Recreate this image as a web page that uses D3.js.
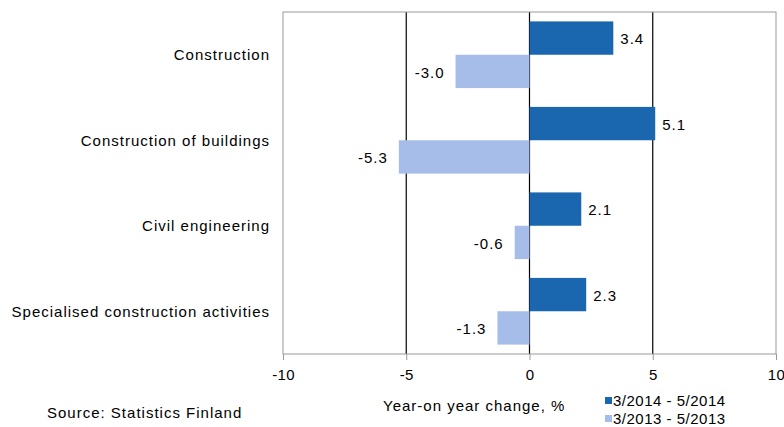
<!DOCTYPE html>
<html>
<head>
<meta charset="utf-8">
<script src="https://cdn.jsdelivr.net/npm/d3@7"></script>
<style>
  body { margin: 0; background: #fff; }
  text { font-family: "Liberation Sans", Arial, sans-serif; fill: #000; font-size: 15px; letter-spacing: 1px; }
</style>
</head>
<body>
<div id="container"></div>
<script>
const categories = ["Construction", "Construction of buildings", "Civil engineering", "Specialised construction activities"];
const series = ["3/2014 - 5/2014", "3/2013 - 5/2013"];
const values2014 = [3.4, 5.1, 2.1, 2.3];
const values2013 = [-3.0, -5.3, -0.6, -1.3];
const ticks = [-10, -5, 0, 5, 10];
const colors = ["#1a67b0", "#a7bde9"];

const width = 784, height = 427;
const margin = { top: 12, right: 8, bottom: 73, left: 283 };

const svg = d3.select("#container").append("svg")
    .attr("width", width)
    .attr("height", height);

const hyphen = s => s.replace("\u2212", "-");
const fmt = d3.format(".1f");

const x = d3.scaleLinear()
    .domain([-10, 10])
    .range([margin.left, width - margin.right]);

const y = d3.scaleBand()
    .domain(categories)
    .range([margin.top, height - margin.bottom])
    .paddingInner(0.22)
    .paddingOuter(0.11);

const inner = d3.scaleBand()
    .domain(series)
    .range([0, y.bandwidth()]);

// gridlines
svg.append("g")
    .selectAll("line")
    .data([-5, 0, 5])
    .join("line")
    .attr("x1", d => x(d)).attr("x2", d => x(d))
    .attr("y1", margin.top).attr("y2", height - margin.bottom)
    .attr("stroke", "#000")
    .attr("stroke-width", 1.2);

// plot border
svg.append("rect")
    .attr("x", margin.left)
    .attr("y", margin.top)
    .attr("width", width - margin.right - margin.left)
    .attr("height", height - margin.bottom - margin.top)
    .attr("fill", "none")
    .attr("stroke", "#999");

const rows = categories.map((c, i) => [
    { cat: c, s: series[0], v: values2014[i], c: colors[0] },
    { cat: c, s: series[1], v: values2013[i], c: colors[1] }
]).flat();

svg.append("g")
    .selectAll("rect")
    .data(rows)
    .join("rect")
    .attr("x", d => x(Math.min(0, d.v)))
    .attr("y", d => y(d.cat) + inner(d.s))
    .attr("width", d => Math.abs(x(d.v) - x(0)))
    .attr("height", inner.bandwidth())
    .attr("fill", d => d.c);

// value labels
svg.append("g")
    .selectAll("text")
    .data(rows)
    .join("text")
    .attr("x", d => d.v >= 0 ? x(d.v) + 7 : x(d.v) - 11)
    .attr("y", d => y(d.cat) + inner(d.s) + inner.bandwidth() / 2 + 1)
    .attr("dy", "0.35em")
    .attr("text-anchor", d => d.v >= 0 ? "start" : "end")
    .text(d => hyphen(fmt(d.v)));

// category labels
svg.append("g")
    .selectAll("text")
    .data(categories)
    .join("text")
    .attr("x", margin.left - 13)
    .attr("y", d => y(d) + y.bandwidth() / 2)
    .attr("dy", "0.35em")
    .attr("text-anchor", "end")
    .text(d => d);

// x axis
const xAxis = svg.append("g")
    .attr("transform", `translate(0,${height - margin.bottom})`)
    .call(d3.axisBottom(x).tickValues(ticks).tickSize(6).tickPadding(9).tickFormat(d => hyphen(d3.format("d")(d))));
xAxis.select(".domain").remove();
xAxis.selectAll("line").attr("stroke", "#999");
xAxis.selectAll("text").attr("font-family", null).attr("font-size", null)
    .style("letter-spacing", "0.3px");

svg.append("text")
    .attr("x", 383)
    .attr("y", 411)
    .text("Year-on year change, %");

svg.append("text")
    .attr("x", 47)
    .attr("y", 418)
    .text("Source: Statistics Finland");

// legend
const legend = svg.append("g")
    .selectAll("g")
    .data(series)
    .join("g")
    .attr("transform", (d, i) => `translate(605,${401 + i * 18})`);
legend.append("rect")
    .attr("x", 0).attr("y", -4)
    .attr("width", 7).attr("height", 7)
    .attr("fill", (d, i) => colors[i]);
legend.append("text")
    .attr("x", 8)
    .attr("dy", "0.35em")
    .style("letter-spacing", "0.5px")
    .text(d => d);
</script>
</body>
</html>
